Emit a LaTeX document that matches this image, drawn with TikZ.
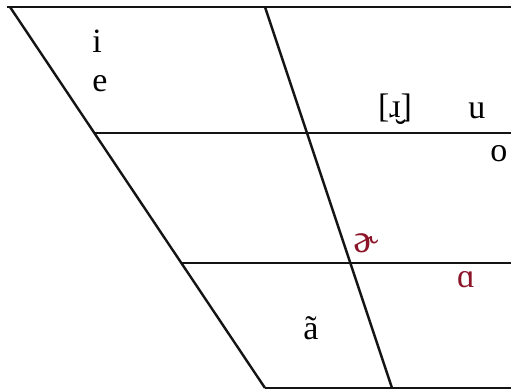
\documentclass[tikz,border=0pt]{standalone}
\usepackage{fontspec}
\setmainfont{Liberation Serif}
\usepackage{tikz}
\usetikzlibrary{positioning,calc}
\usepackage{xcolor}
\definecolor{vowelred}{RGB}{140,20,40}
\definecolor{gridblack}{RGB}{20,20,20}

\begin{document}
\begin{tikzpicture}[
  x=0.5pt,y=-0.5pt,
  grid/.style={line width=1.2pt,draw=gridblack},
  vwl/.style={font=\fontsize{17}{20}\selectfont,inner sep=0pt,anchor=base,text=black},
  rvwl/.style={vwl,text=vowelred},
]
\useasboundingbox (0,0) rectangle (511,390);

% corners of the chart
\coordinate (tl) at (7,7);
\coordinate (fl) at (10,7);
\coordinate (tm) at (265,7);
\coordinate (tr) at (511,7);
\coordinate (bl) at (265,388);
\coordinate (bm) at (392,388);
\coordinate (br) at (511,388);
\coordinate (ml1) at (94,133);
\coordinate (mr1) at (511,133);
\coordinate (ml2) at (181,263);
\coordinate (mr2) at (511,263);

\draw[grid] (tl) -- (tr);
\draw[grid] (ml1) -- (mr1);
\draw[grid] (ml2) -- (mr2);
\draw[grid] (bl) -- (br);
\draw[grid] (fl) -- (bl);
\draw[grid] (tm) -- (bm);

% vowels
\node[vwl] (vi) at (97,53) {i};
\node[vwl] (ve) at (100,92) {e};
\node[vwl] (vr) at (395,118) {[ɹ̮]};
\node[vwl] (vu) at (477,119) {u};
\node[vwl] (vo) at (499,162) {o};
\node[rvwl,font=\fontsize{20}{22}\selectfont] (vschwa) at (366,253) {ɚ};
\node[rvwl] (valpha) at (466,288) {ɑ};
\node[vwl] (vanas) at (311,340) {ã};
\end{tikzpicture}
\end{document}
